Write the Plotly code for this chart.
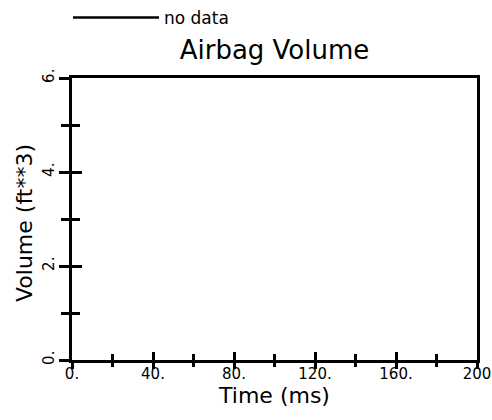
import plotly.graph_objects as go

# Data (the chart has no data)
time_ms = [None]
volume_ft3 = [None]
x_tickvals = [0, 40, 80, 120, 160, 200]
x_ticktext = ["0.", "40.", "80.", "120.", "160.", "200"]
y_tickvals = [0, 2, 4, 6]
y_ticktext = ["0.", "2.", "4.", "6."]

FONT = "DejaVu Sans, Liberation Sans, sans-serif"
LW = 2.5

fig = go.Figure()
fig.add_trace(go.Scatter(x=time_ms, y=volume_ft3, mode="lines", name="no data",
                         line=dict(color="black", width=2.5), showlegend=True))
# helper trace for the overlay axes that draw the other half of the crossing ticks
fig.add_trace(go.Scatter(x=time_ms, y=volume_ft3, mode="lines", xaxis="x2", yaxis="y2",
                         showlegend=False, hoverinfo="skip"))

common = dict(showgrid=False, zeroline=False, color="black")

fig.update_layout(
    width=492, height=420,
    margin=dict(l=72, r=15, t=78, b=60, autoexpand=False),
    paper_bgcolor="white", plot_bgcolor="white",
    font=dict(family=FONT, color="black", size=15),
    title=dict(text="Airbag Volume", x=0.5, xref="paper", xanchor="center",
               y=1 - 50 / 420, yref="container", yanchor="middle",
               font=dict(size=26, family=FONT, color="black")),
    showlegend=True,
    legend=dict(x=68 / 492, xref="container", xanchor="left", y=1 + 19 / 420, yref="container",
                yanchor="top", bgcolor="rgba(0,0,0,0)", itemwidth=86,
                font=dict(size=17, family=FONT, color="black")),
    xaxis=dict(range=[0, 200], tickvals=x_tickvals, ticktext=x_ticktext,
               ticks="inside", ticklen=8, tickwidth=LW, tickcolor="black",
               minor=dict(ticks="inside", ticklen=6, tickwidth=LW, dtick=20, tickcolor="black"),
               showline=True, linewidth=LW, linecolor="black", mirror=True,
               ticklabelstandoff=-2,
               tickfont=dict(size=15), title=dict(text="Time (ms)", font=dict(size=22), standoff=0),
               **common),
    xaxis2=dict(range=[0, 200], overlaying="x", anchor="y", side="bottom",
                tickvals=x_tickvals, showticklabels=False,
                ticks="outside", ticklen=8, tickwidth=LW, tickcolor="black",
                minor=dict(ticks="outside", ticklen=6, tickwidth=LW, dtick=20, tickcolor="black"),
                showline=False, **common),
    yaxis=dict(range=[0, 6], tickvals=y_tickvals, ticktext=y_ticktext, tickangle=-90,
               ticks="outside", ticklen=10, tickwidth=LW, tickcolor="black",
               minor=dict(ticks="outside", ticklen=8, tickwidth=LW, dtick=1, tickcolor="black"),
               showline=True, linewidth=LW, linecolor="black", mirror=True,
               ticklabelstandoff=-1,
               tickfont=dict(size=15), **common),
    yaxis2=dict(range=[0, 6], overlaying="y", anchor="x", side="left",
                tickvals=y_tickvals, showticklabels=False,
                ticks="inside", ticklen=10, tickwidth=LW, tickcolor="black",
                minor=dict(ticks="inside", ticklen=8, tickwidth=LW, dtick=1, tickcolor="black"),
                showline=False, **common),
    annotations=[dict(text="Volume (ft**3)", textangle=-90, showarrow=False,
                      xref="paper", x=0, xanchor="center", xshift=-48,
                      yref="paper", y=0.5, yanchor="middle", yshift=-4,
                      font=dict(size=22, family=FONT, color="black"))],
)

fig.write_html("out.html", config={"displayModeBar": False},
               post_script="document.body.style.margin='0px';")
